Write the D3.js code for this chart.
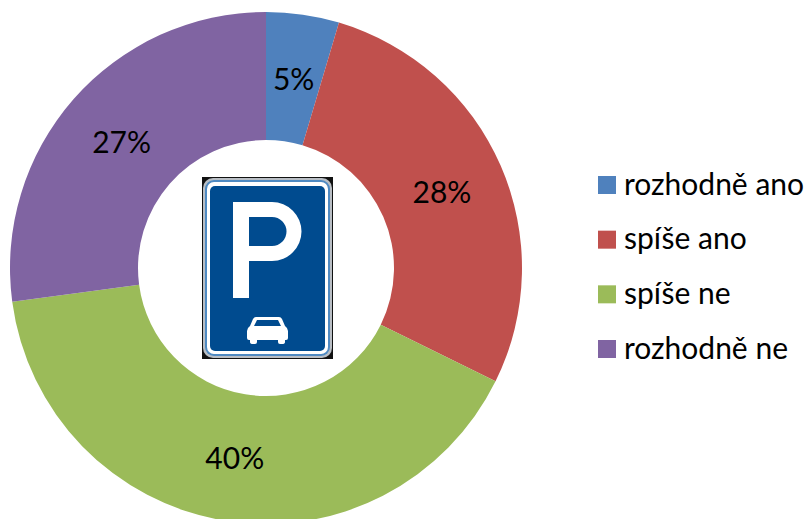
<!DOCTYPE html>
<html><head><meta charset="utf-8">
<script src="https://cdn.jsdelivr.net/npm/d3@7/dist/d3.min.js"></script>
<style>html,body{margin:0;padding:0;background:#fff}svg{display:block}text{font-family:Lato,sans-serif;fill:#000}</style>
</head><body><svg id="c" width="807" height="519"></svg>
<script>
const categories = ["rozhodně ano","spíše ano","spíše ne","rozhodně ne"];
const values = [4.6,27.7,40.6,27.1];
const valueLabels = ["5%","28%","40%","27%"];
const colors = ["#4f81bd","#c0504d","#9bbb59","#8064a2"];

const svg = d3.select("#c");
const cx = 266, cy = 268, R = 256, r = 128;
const color = d3.scaleOrdinal(categories, colors);
const pie = d3.pie().value((d,i)=>values[i]).sort(null);
const arc = d3.arc().innerRadius(r).outerRadius(R);
const g = svg.append("g").attr("transform",`translate(${cx},${cy})`);
const arcs = pie(categories);
g.selectAll("path").data(arcs).join("path").attr("d",arc).attr("fill",d=>color(d.data));
g.selectAll("text").data(arcs).join("text")
  .attr("x",d=>arc.centroid(d)[0]).attr("y",d=>arc.centroid(d)[1]+11.5)
  .attr("text-anchor","middle").attr("font-size",30).text((d,i)=>valueLabels[i]);

// legend
const ly = d3.scalePoint().domain(categories).range([176,340]);
const lg = svg.append("g");
lg.selectAll("rect").data(categories).join("rect")
  .attr("x",598).attr("y",d=>ly(d)).attr("width",18).attr("height",18).attr("fill",d=>color(d));
lg.selectAll("text").data(categories).join("text")
  .attr("x",624).attr("y",d=>ly(d)+18.5).attr("font-size",30).text(d=>d);

// parking sign pictogram
const s = svg.append("g");
s.append("rect").attr("x",202).attr("y",177).attr("width",131).attr("height",182).attr("fill","#111");
s.append("rect").attr("x",203).attr("y",178).attr("width",129).attr("height",180).attr("rx",10).attr("fill","#b9bec4");
s.append("rect").attr("x",205).attr("y",180).attr("width",125).attr("height",176).attr("rx",9).attr("fill","#4f8ac2");
s.append("rect").attr("x",207).attr("y",182).attr("width",121).attr("height",172).attr("rx",7).attr("fill","#fff");
s.append("rect").attr("x",210).attr("y",186).attr("width",115).attr("height",165).attr("rx",5).attr("fill","#004b8f");
s.append("path").attr("fill","#fff").attr("fill-rule","evenodd")
 .attr("d","M233 202H272A29.5 29.5 0 0 1 272 261H249V298H233ZM249 217V246H272A14.5 14.5 0 0 0 272 217Z");
s.append("path").attr("fill","#fff").attr("fill-rule","evenodd")
 .attr("d","M256 317H279Q281 317 282 319L285 326Q288 328 288 331V338Q288 340 286 340H285V342Q285 344 282 344H280Q278 344 278 342V340H257V342Q257 344 255 344H253Q250 344 250 342V340H249Q247 340 247 338V331Q247 328 250 326L253 319Q254 317 256 317ZM257 320L254 326H281L278 320Z");
</script></body></html>
